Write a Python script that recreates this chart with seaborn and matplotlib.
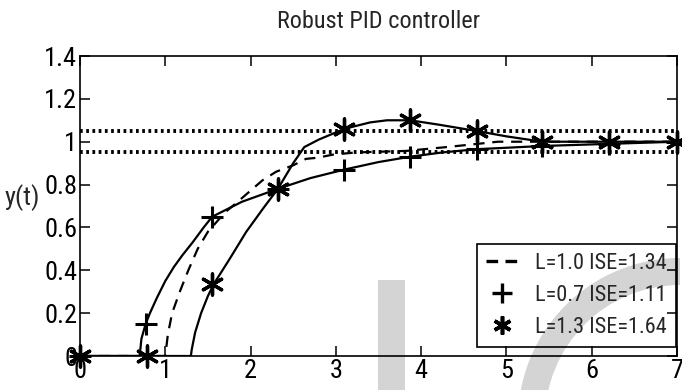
import matplotlib
matplotlib.use("Agg")
import matplotlib.pyplot as plt
import seaborn as sns
import pandas as pd
from matplotlib.lines import Line2D
from matplotlib.patches import Rectangle, Wedge

# ------------------------------------------
# data
# ------------------------------------------
t_l10 = [0, 1.0, 1.03, 1.08, 1.17, 1.27, 1.38, 1.5, 1.7, 1.85, 2.14, 2.3, 2.5, 2.65, 2.78, 2.97,
         3.24, 3.82, 4.3, 4.9, 5.5, 6.2, 7.0]
y_l10 = [0, 0, 0.1, 0.2, 0.3, 0.4, 0.5, 0.58, 0.67, 0.72, 0.82, 0.86, 0.89, 0.92, 0.925, 0.94,
         0.95, 0.957, 0.975, 1.0, 1.0, 1.0, 1.0]

t_l07 = [0, 0.7, 0.72, 0.77, 0.82, 0.9, 1.0, 1.1, 1.2, 1.32, 1.45, 1.55, 1.9, 2.32, 2.7, 3.1,
         3.5, 3.87, 4.25, 4.65, 5.42, 6.2, 7.0]
y_l07 = [0, 0, 0.08, 0.15, 0.2, 0.27, 0.35, 0.415, 0.47, 0.53, 0.6, 0.65, 0.72, 0.78, 0.83, 0.87,
         0.905, 0.93, 0.95, 0.965, 0.98, 0.99, 1.0]

t_l13 = [0, 1.3, 1.31, 1.35, 1.42, 1.5, 1.57, 1.75, 1.95, 2.15, 2.32, 2.5, 2.63, 2.8, 3.1, 3.4,
         3.6, 3.87, 4.2, 4.65, 5.0, 5.42, 6.2, 7.0]
y_l13 = [0, 0, 0.03, 0.11, 0.2, 0.28, 0.337, 0.45, 0.58, 0.69, 0.78, 0.9, 0.975, 1.01, 1.06,
         1.09, 1.1, 1.1, 1.08, 1.05, 1.025, 1.0, 1.0, 1.0]

# marker positions
tm_l07 = [0, 0.77, 1.55, 2.32, 3.1, 3.87, 4.65, 5.42, 6.2, 7.0]
ym_l07 = [0, 0.15, 0.65, 0.78, 0.87, 0.93, 0.965, 0.98, 0.99, 1.0]
tm_l13 = [0, 0.78, 1.55, 2.32, 3.1, 3.87, 4.65, 5.42, 6.2, 7.0]
ym_l13 = [0, 0, 0.337, 0.78, 1.06, 1.1, 1.05, 1.0, 1.0, 1.0]

band = [0.95, 1.05]
legend_labels = ["L=1.0 ISE=1.34", "L=0.7 ISE=1.11", "L=1.3 ISE=1.64"]
x_ticks = [0, 1, 2, 3, 4, 5, 6, 7]
y_ticks = [0, 0.2, 0.4, 0.6, 0.8, 1.0, 1.2, 1.4]
y_ticklabels = ["0", "0.2", "0.4", "0.6", "0.8", "1", "1.2", "1.4"]

# ------------------------------------------
# style
# ------------------------------------------
sns.set_style("ticks")
# condensed face is closest to the squeezed MATLAB text
plt.rcParams['font.family'] = ['Roboto Condensed', 'DejaVu Sans']

fig = plt.figure(figsize=(6.82, 3.9), dpi=100)
ax = fig.add_axes([80 / 682, 34 / 390, 597 / 682, 300 / 390])
ax.set_facecolor('none')

# watermark in the background
fig.add_artist(Rectangle((3.78, 0), 0.27, 1.10, transform=fig.dpi_scale_trans,
                         color='#d4d4d4', zorder=-5, lw=0))
fig.add_artist(Wedge((6.80, -0.30), 1.62, 90, 180, width=0.27, transform=fig.dpi_scale_trans,
                     color='#d4d4d4', zorder=-5, lw=0))

# tolerance band
for b in band:
    ax.axhline(b, color='k', lw=2.8, linestyle=(0, (0.7, 0.9)), dash_capstyle='butt')

df10 = pd.DataFrame({'t': t_l10, 'y': y_l10})
df07 = pd.DataFrame({'t': t_l07, 'y': y_l07})
df13 = pd.DataFrame({'t': t_l13, 'y': y_l13})

sns.lineplot(data=df10, x='t', y='y', ax=ax, color='k', lw=1.6, estimator=None,
             linestyle=(0, (5, 3.5)))
sns.lineplot(data=df07, x='t', y='y', ax=ax, color='k', lw=1.6, estimator=None)
sns.lineplot(data=df13, x='t', y='y', ax=ax, color='k', lw=1.6, estimator=None)

sns.scatterplot(x=tm_l07, y=ym_l07, ax=ax, marker='+', s=260, color='k', linewidth=2.2,
                clip_on=False, zorder=5)
sns.scatterplot(x=tm_l13, y=ym_l13, ax=ax, marker=(6, 2, 0), s=230, color='k', linewidth=2.4,
                clip_on=False, zorder=5)

ax.set_xlim(0, 7)
ax.set_ylim(0, 1.4)
ax.set_xticks(x_ticks)
ax.set_xticklabels([str(v) for v in x_ticks])
ax.set_yticks(y_ticks)
ax.set_yticklabels(y_ticklabels)
ax.tick_params(direction='in', length=7, width=1.1, top=True, right=True,
               labelsize=19, colors='k', pad=2)
for s in ax.spines.values():
    s.set_visible(True)
    s.set_linewidth(1.2)
    s.set_color('k')

ax.set_xlabel("")
ax.set_ylabel("y(t)", rotation=0, fontsize=19, ha='center', va='center')
ax.yaxis.set_label_coords(-0.097, 0.527)
ax.set_title("Robust PID controller", fontsize=17.5, pad=20)

handles = [
    Line2D([], [], color='k', lw=2.4, linestyle=(0, (3.5, 2.2))),
    Line2D([], [], color='k', lw=0, marker='+', markersize=14, markeredgewidth=2.4),
    Line2D([], [], color='k', lw=0, marker=(6, 2, 0), markersize=13, markeredgewidth=2.6),
]
leg = ax.legend(handles, legend_labels, loc='lower right', fontsize=16, frameon=True,
                fancybox=False, edgecolor='k', facecolor='none', framealpha=1,
                handlelength=1.4, handletextpad=0.8, borderpad=0.4, labelspacing=0.5,
                borderaxespad=0.0, bbox_to_anchor=(0.998, 0.03))
leg.get_frame().set_linewidth(1.2)

plt.savefig("out.png", dpi=100)
plt.close()
